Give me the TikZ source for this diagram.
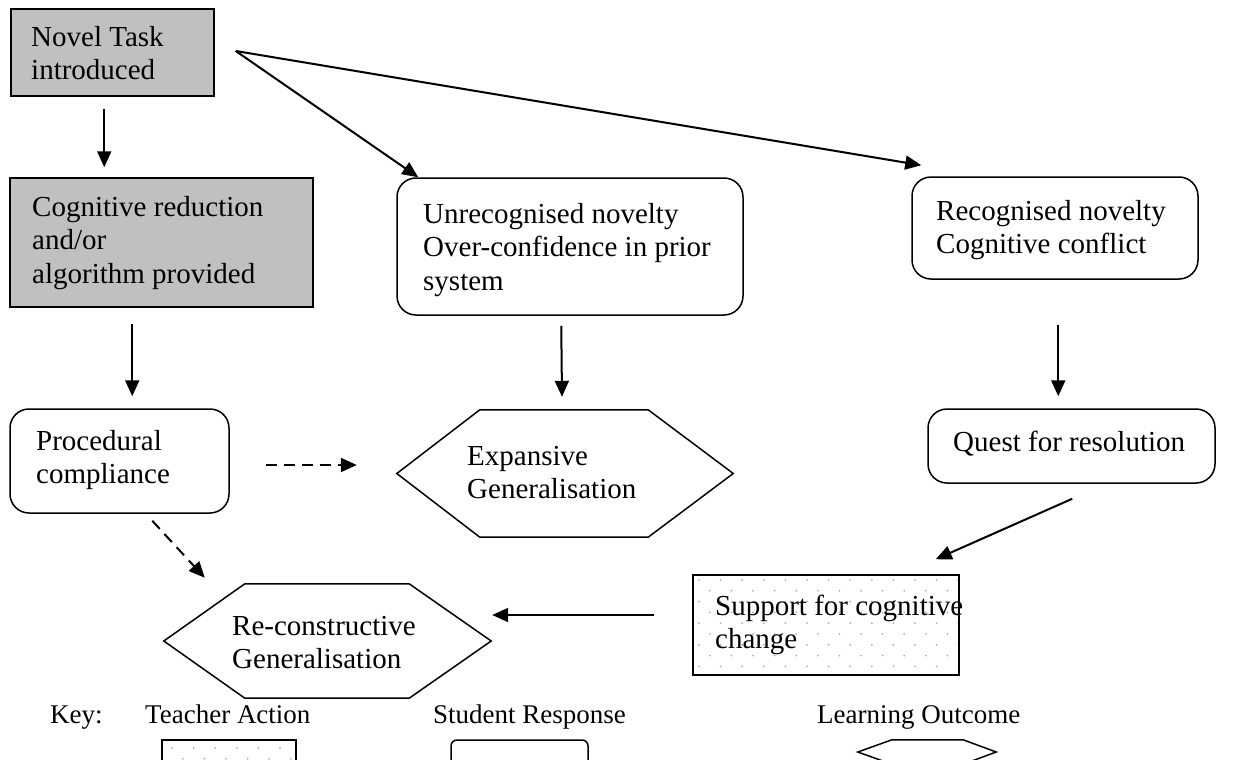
\documentclass[tikz,border=0pt]{standalone}
\usepackage{fontspec}
\setmainfont{Liberation Serif}
\usetikzlibrary{arrows.meta,calc}
\definecolor{boxgray}{RGB}{192,192,192}
\definecolor{dotgray}{RGB}{175,175,175}
\newcommand{\dgmainfont}{\fontsize{29}{33.5}\selectfont}
\newcommand{\dgkeyfont}{\fontsize{27}{31}\selectfont}
\begin{document}
\begin{tikzpicture}[x=1pt,y=-1pt,
  tbox/.style={draw, line width=1.5pt, inner sep=0pt},
  rbox/.style={tbox, rounded corners=19pt},
  hexnode/.style={draw=none, inner sep=0pt},
  hex/.style={line width=1.5pt, line join=miter},
  txt/.style={font=\dgmainfont, align=left, inner sep=0pt, anchor=north west},
  keytxt/.style={font=\dgkeyfont, inner sep=0pt, anchor=base west},
  arr/.style={line width=2pt, -{Triangle[length=16pt,width=14pt]}},
  darr/.style={arr, dash pattern=on 11pt off 7pt}]
\useasboundingbox (0,0) rectangle (1256,760);
\fill[white] (0,0) rectangle (1256,760);
\clip (0,0) rectangle (1256,760);

% ---- main shapes ----
\node[tbox, fill=boxgray, minimum width=203pt, minimum height=87pt] (novel) at (112.5,52.5) {};
\node[tbox, fill=boxgray, minimum width=303pt, minimum height=129pt] (cogn) at (161.5,242.5) {};
\node[rbox, minimum width=219pt, minimum height=104pt] (proc) at (119.5,461) {};
\node[rbox, minimum width=346pt, minimum height=137pt] (unrec) at (570,246.5) {};
\node[rbox, minimum width=286pt, minimum height=102pt] (recog) at (1055,228) {};
\node[rbox, minimum width=287pt, minimum height=74pt] (quest) at (1071.5,446) {};
\node[tbox, minimum width=266pt, minimum height=100pt] (support) at (826,625) {};
\node[hexnode, minimum width=336pt, minimum height=127pt] (expan) at (565,473.5) {};
\node[hexnode, minimum width=327pt, minimum height=114pt] (recon) at (327.5,641) {};

% dotted fill of teacher-action box
\begin{scope}
\clip (support.south west) rectangle (support.north east);
\foreach \r in {0,...,10} {
  \foreach \c in {0,...,13} {
    \fill[dotgray] ({693+6+\c*21.6+mod(\r,2)*10.8},{575+5+\r*10.8}) circle (1pt);
  }
}
\end{scope}
\node[tbox, minimum width=266pt, minimum height=100pt] at (support) {};

% hexagons
\draw[hex] (expan.west) -- ($(expan.north west)+(83,0)$) -- ($(expan.north east)+(-85,0)$)
  -- (expan.east) -- ($(expan.south east)+(-85,0)$) -- ($(expan.south west)+(83,0)$) -- cycle;
\draw[hex] (recon.west) -- ($(recon.north west)+(81,0)$) -- ($(recon.north east)+(-82,0)$)
  -- (recon.east) -- ($(recon.south east)+(-82,0)$) -- ($(recon.south west)+(81,0)$) -- cycle;

% ---- texts ----
\node[txt] (tnovel) at (31,22.5) {\strut Novel Task\\introduced};
\node[txt] (tcogn) at (32,192.5) {\strut Cognitive reduction\\and/or\\algorithm provided};
\node[txt] (tproc) at (36,426.5) {\strut Procedural\\compliance};
\node[txt] (tunrec) at (423,199.5) {\strut Unrecognised novelty\\Over-confidence in prior\\system};
\node[txt] (trecog) at (936,196.5) {\strut Recognised novelty\\Cognitive conflict};
\node[txt] (tquest) at (953,427.5) {\strut Quest for resolution};
\node[txt] (texpan) at (467,441.5) {\strut Expansive\\Generalisation};
\node[txt] (trecon) at (232,611.5) {\strut Re-constructive\\Generalisation};
\node[txt] (tsupport) at (715,591.5) {\strut Support for cognitive\\change};

% ---- connectors ----
\coordinate (apex) at ($(novel.east)+(21,-1.5)$);
\draw[arr] ($(novel.south west)+(94,12)$) -- ($(cogn.north west)+(95,-10)$);
\draw[arr] (apex) -- ($(unrec.north west)+(22,0)$);
\draw[arr] (apex) -- ($(recog.north west)+(10,-11)$);
\draw[arr] ($(cogn.south west)+(123,16)$) -- ($(proc.north west)+(123,-12)$);
\draw[arr] ($(unrec.south west)+(165,10)$) -- ($(expan.north)+(-3,-13)$);
\draw[arr] ($(recog.south west)+(147,45)$) -- ($(quest.north west)+(131,-12)$);
\draw[arr] ($(quest.south west)+(145,15)$) -- ($(support.north east)+(-24,-15)$);
\draw[arr] ($(support.west)+(-38,-10)$) -- ($(recon.east)+(1,-26)$);
\draw[darr] ($(proc.east)+(36,4)$) -- ($(expan.west)+(-40,-8.5)$);
\draw[darr] ($(proc.south west)+(143,7)$) -- ($(recon.north west)+(41,-6)$);

% ---- key ----
\node[keytxt] (kkey) at (50,723) {Key:};
\node[keytxt] (kteach) at (145,723) {Teacher Action};
\node[keytxt] (kstud) at (433,723) {Student Response};
\node[keytxt] (klearn) at (817,723) {Learning Outcome};

\node[tbox, minimum width=134pt, minimum height=60pt] (kteachbox) at (229,770) {};
\begin{scope}
\clip (kteachbox.south west) rectangle (kteachbox.north east);
\foreach \r in {0,...,5} {
  \foreach \c in {0,...,6} {
    \fill[dotgray] ({162+10+\c*21.6+mod(\r,2)*10.8},{740+8+\r*10.8}) circle (1pt);
  }
}
\end{scope}
\node[tbox, minimum width=134pt, minimum height=60pt] at (kteachbox) {};
\node[rbox, rounded corners=6pt, minimum width=137pt, minimum height=60pt] (kstudbox) at (519.5,770) {};
\node[hexnode, minimum width=138pt, minimum height=24pt] (klearnhex) at (927,752) {};
\draw[hex] (klearnhex.west) -- ($(klearnhex.north west)+(34,0)$) -- ($(klearnhex.north east)+(-33,0)$)
  -- (klearnhex.east) -- ($(klearnhex.south east)+(-33,0)$) -- ($(klearnhex.south west)+(34,0)$) -- cycle;
\end{tikzpicture}
\end{document}
